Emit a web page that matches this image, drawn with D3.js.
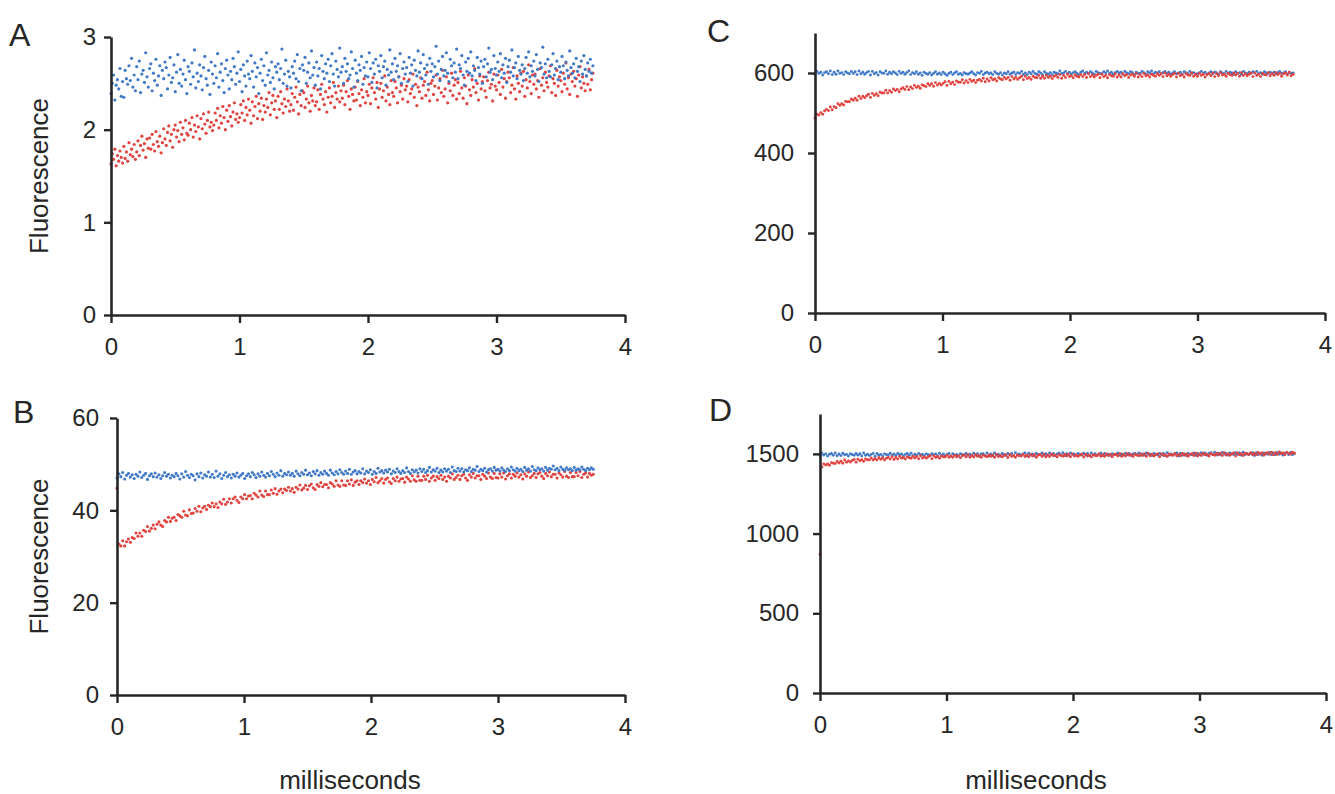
<!DOCTYPE html>
<html><head><meta charset="utf-8">
<script src="https://cdn.jsdelivr.net/npm/d3@7"></script>
<style>html,body{margin:0;padding:0;background:#fff;} svg{display:block;font-family:"Liberation Sans",Arial,Helvetica,sans-serif;}</style>
</head><body>
<svg id="chart" width="1335" height="794"></svg>
<script>
// sampling intervals of the traces (ms)
const dtA = 0.01;
const dt = 0.015;
const xTicks = [0, 1, 2, 3, 4];
const aTicks = [0, 1, 2, 3];
const bTicks = [0, 20, 40, 60];
const cTicks = [0, 200, 400, 600];
const dTicks = [0, 500, 1000, 1500];
const xLabel = "milliseconds";
const yLabel = "Fluorescence";

const aBlue = [
2.39,2.50,2.59,2.32,2.48,2.54,2.44,2.66,2.36,2.52,
2.35,2.64,2.55,2.49,2.69,2.53,2.77,2.46,2.59,2.42,
2.68,2.54,2.74,2.40,2.60,2.64,2.51,2.83,2.57,2.46,
2.66,2.71,2.42,2.61,2.53,2.76,2.48,2.58,2.69,2.37,
2.64,2.55,2.73,2.67,2.44,2.59,2.78,2.51,2.56,2.70,
2.41,2.62,2.81,2.50,2.65,2.47,2.60,2.75,2.54,2.39,
2.68,2.63,2.49,2.72,2.57,2.86,2.45,2.61,2.52,2.70,
2.58,2.43,2.67,2.79,2.55,2.48,2.64,2.38,2.73,2.60,
2.50,2.69,2.56,2.82,2.46,2.62,2.71,2.53,2.40,2.66,
2.75,2.59,2.44,2.63,2.54,2.77,2.68,2.49,2.61,2.84,
2.52,2.65,2.41,2.70,2.58,2.47,2.74,2.60,2.55,2.80,
2.63,2.46,2.72,2.57,2.67,2.39,2.61,2.76,2.53,2.69,
2.48,2.83,2.59,2.64,2.51,2.73,2.56,2.44,2.68,2.62,
2.71,2.54,2.66,2.87,2.50,2.60,2.75,2.47,2.63,2.57,
2.45,2.68,2.61,2.74,2.55,2.81,2.52,2.66,2.42,2.70,
2.64,2.78,2.50,2.62,2.72,2.56,2.85,2.59,2.67,2.48,
2.73,2.58,2.66,2.44,2.80,2.63,2.55,2.71,2.61,2.76,
2.52,2.69,2.82,2.60,2.47,2.74,2.65,2.57,2.88,2.62,
2.68,2.50,2.77,2.63,2.71,2.55,2.59,2.84,2.66,2.46,
2.75,2.61,2.53,2.70,2.64,2.79,2.49,2.67,2.58,2.73,
2.57,2.83,2.66,2.51,2.72,2.60,2.76,2.45,2.69,2.63,
2.80,2.56,2.68,2.74,2.48,2.65,2.59,2.86,2.62,2.71,
2.54,2.77,2.63,2.69,2.57,2.82,2.50,2.66,2.73,2.60,
2.67,2.52,2.78,2.61,2.70,2.47,2.75,2.64,2.58,2.85,
2.62,2.72,2.55,2.81,2.66,2.59,2.70,2.49,2.77,2.63,
2.71,2.57,2.68,2.90,2.60,2.74,2.53,2.65,2.79,2.58,
2.64,2.83,2.61,2.52,2.76,2.69,2.56,2.72,2.62,2.87,
2.55,2.70,2.66,2.80,2.59,2.48,2.73,2.63,2.77,2.61,
2.84,2.58,2.69,2.64,2.53,2.78,2.67,2.60,2.74,2.50,
2.68,2.76,2.57,2.71,2.88,2.62,2.65,2.54,2.80,2.66,
2.59,2.73,2.63,2.82,2.56,2.70,2.61,2.77,2.51,2.68,
2.75,2.62,2.86,2.58,2.67,2.72,2.55,2.79,2.64,2.60,
2.70,2.53,2.66,2.78,2.61,2.84,2.57,2.69,2.63,2.74,
2.58,2.81,2.65,2.52,2.72,2.67,2.89,2.60,2.71,2.56,
2.76,2.63,2.57,2.70,2.82,2.59,2.66,2.74,2.54,2.68,
2.62,2.79,2.69,2.55,2.73,2.64,2.58,2.85,2.67,2.61,
2.71,2.56,2.77,2.63,2.68,2.52,2.74,2.60,2.80,2.65,
2.58,2.72,2.63,2.76,2.61,2.69];

const aRed = [
1.63,1.74,1.68,1.79,1.61,1.72,1.66,1.77,1.70,1.64,
1.82,1.69,1.76,1.66,1.86,1.73,1.79,1.71,1.84,1.68,
1.76,1.88,1.72,1.83,1.93,1.78,1.85,1.70,1.90,1.80,
1.91,1.79,1.95,1.84,1.77,1.98,1.87,1.82,1.93,1.75,
1.86,2.01,1.90,1.83,1.97,2.04,1.88,1.95,1.81,2.00,
2.05,1.92,1.99,1.87,2.08,1.95,2.02,1.89,2.10,1.96,
1.94,2.07,2.00,2.13,1.92,2.05,1.98,2.15,2.03,1.90,
2.12,2.01,2.17,2.06,1.96,2.10,2.19,2.03,2.08,1.99,
2.05,2.18,2.10,2.23,2.02,2.15,2.07,2.25,2.13,2.00,
2.21,2.09,2.26,2.14,2.04,2.19,2.29,2.11,2.17,2.08,
2.13,2.27,2.18,2.31,2.10,2.24,2.16,2.33,2.21,2.07,
2.30,2.15,2.25,2.36,2.12,2.28,2.20,2.34,2.11,2.26,
2.19,2.33,2.24,2.40,2.16,2.29,2.37,2.22,2.31,2.13,
2.36,2.22,2.41,2.28,2.18,2.33,2.25,2.44,2.31,2.20,
2.27,2.39,2.21,2.35,2.46,2.30,2.17,2.38,2.26,2.42,
2.40,2.24,2.33,2.47,2.29,2.20,2.37,2.31,2.45,2.26,
2.30,2.43,2.22,2.38,2.49,2.33,2.27,2.41,2.19,2.35,
2.45,2.29,2.36,2.51,2.24,2.40,2.33,2.47,2.30,2.42,
2.34,2.48,2.27,2.41,2.53,2.36,2.22,2.44,2.38,2.31,
2.46,2.32,2.52,2.39,2.26,2.43,2.35,2.55,2.29,2.41,
2.37,2.49,2.28,2.45,2.56,2.40,2.33,2.51,2.24,2.44,
2.50,2.35,2.42,2.58,2.31,2.46,2.38,2.27,2.53,2.40,
2.36,2.52,2.45,2.29,2.57,2.41,2.48,2.33,2.55,2.43,
2.47,2.30,2.54,2.39,2.44,2.60,2.35,2.49,2.26,2.46,
2.41,2.56,2.34,2.48,2.52,2.37,2.62,2.43,2.31,2.50,
2.53,2.38,2.47,2.59,2.32,2.45,2.55,2.40,2.64,2.36,
2.44,2.57,2.29,2.50,2.42,2.61,2.37,2.48,2.54,2.33,
2.51,2.39,2.63,2.45,2.34,2.56,2.47,2.28,2.59,2.43,
2.37,2.54,2.46,2.66,2.40,2.50,2.32,2.58,2.44,2.52,
2.57,2.42,2.35,2.53,2.62,2.45,2.49,2.31,2.60,2.47,
2.43,2.59,2.51,2.38,2.65,2.46,2.55,2.34,2.52,2.62,
2.56,2.40,2.48,2.67,2.44,2.33,2.58,2.50,2.41,2.61,
2.47,2.63,2.36,2.54,2.45,2.70,2.52,2.39,2.59,2.49,
2.60,2.44,2.53,2.35,2.66,2.48,2.56,2.42,2.62,2.51,
2.46,2.58,2.69,2.40,2.55,2.50,2.37,2.64,2.47,2.57,
2.53,2.41,2.61,2.49,2.72,2.44,2.56,2.38,2.60,2.52,
2.63,2.47,2.55,2.36,2.59,2.68,2.45,2.57,2.50,2.42,
2.58,2.49,2.65,2.43,2.54,2.61];

const bBlue = [
47.0,47.9,47.3,48.2,46.8,47.6,48.0,47.2,47.7,46.9,
47.8,47.4,48.3,47.1,47.6,48.0,46.7,47.5,47.9,47.3,
48.1,47.2,47.7,46.9,47.5,48.2,47.4,47.8,47.0,47.6,
47.3,48.0,47.5,46.8,47.9,47.2,48.4,47.6,47.1,47.8,
47.5,46.6,47.9,47.3,48.1,47.0,47.7,47.4,48.3,47.2,
47.8,47.1,48.5,47.4,47.9,46.9,47.6,48.2,47.3,47.7,
47.0,47.8,47.4,48.1,47.2,47.6,48.0,46.9,47.5,47.9,
47.3,48.2,47.7,47.1,47.9,47.4,48.3,47.6,47.2,48.0,
47.5,48.4,47.8,47.3,48.1,47.6,48.6,47.4,48.0,47.7,
48.3,47.6,48.0,47.4,48.5,47.9,47.5,48.2,47.8,48.7,
47.7,48.1,47.5,48.4,47.9,48.6,47.6,48.2,47.8,48.5,
48.0,47.6,48.7,48.1,47.7,48.4,47.9,48.8,48.2,47.8,
48.5,48.0,48.9,47.8,48.3,48.6,47.9,48.4,48.1,49.0,
47.9,48.5,48.2,48.8,47.8,48.4,48.0,49.1,48.3,48.6,
48.1,48.7,48.3,48.9,47.9,48.5,48.2,49.0,48.4,48.0,
48.6,48.2,49.2,48.4,48.0,48.8,48.3,48.7,48.1,49.0,
48.4,48.9,48.2,48.6,49.3,48.3,48.8,48.5,49.1,48.2,
48.7,48.3,49.0,48.5,48.9,48.2,49.4,48.6,48.4,49.1,
48.5,49.0,48.3,48.8,48.6,49.2,48.4,48.9,48.7,49.5,
48.4,48.9,48.6,49.1,48.3,48.8,49.0,48.5,49.3,48.7,
48.9,48.5,49.2,48.7,48.4,49.0,48.6,49.4,48.8,48.5,
49.1,48.6,48.9,48.4,49.3,48.7,49.0,48.5,49.5,48.8,
48.6,49.2,48.8,49.0,48.5,49.3,48.7,49.1,48.9,49.6,
48.8,49.1,48.6,49.4,48.9,48.7,49.2,48.8,49.0,48.6,
49.3,48.7,49.0,48.8,49.4,48.9,48.6,49.1,48.8,49.2,
48.9];

const bRed = [
44.8,32.7,32.3,33.4,32.3,33.2,33.8,33.1,34.1,33.9,
35.1,34.4,35.1,34.4,35.7,35.4,36.5,35.5,36.1,36.8,
36.0,37.0,37.5,36.8,36.5,37.8,37.5,38.5,37.6,38.3,
38.5,37.8,39.1,38.8,38.5,39.8,39.0,38.8,40.1,39.3,
39.4,40.4,39.8,40.9,39.7,40.5,40.9,40.2,41.1,40.8,
41.6,40.8,41.4,40.6,41.8,41.4,42.4,41.3,41.8,42.5,
41.6,42.5,42.9,42.2,41.7,42.9,42.5,43.4,42.5,43.1,
43.2,42.5,43.7,43.3,42.9,44.2,43.3,43.0,44.2,43.4,
43.4,44.4,43.7,44.7,43.5,44.2,44.6,43.8,44.6,44.3,
45.0,44.2,44.7,43.9,45.0,44.6,45.5,44.4,44.8,45.4,
44.5,45.3,45.7,44.9,44.5,45.6,45.2,46.0,45.1,45.6,
45.6,44.9,46.0,45.7,45.2,46.4,45.5,45.2,46.4,45.5,
45.4,46.4,45.7,46.6,45.4,46.1,46.4,45.6,46.4,46.0,
46.8,45.9,46.4,45.6,46.7,46.2,47.1,46.0,46.4,46.9,
45.9,46.7,47.0,46.2,45.8,46.9,46.4,47.2,46.3,46.8,
46.9,46.1,47.2,46.8,46.3,47.5,46.6,46.3,47.4,46.5,
46.5,47.4,46.7,47.6,46.3,47.0,47.4,46.5,47.3,46.9,
47.6,46.7,47.2,46.3,47.4,47.0,47.9,46.7,47.1,47.6,
46.7,47.5,47.8,47.0,46.5,47.7,47.2,48.0,47.0,47.5,
47.5,46.7,47.8,47.4,46.9,48.1,47.2,46.9,48.0,47.1,
47.0,47.9,47.2,48.1,46.8,47.5,47.9,47.0,47.8,47.4,
48.1,47.2,47.7,46.8,47.9,47.4,48.3,47.1,47.5,48.0,
47.1,47.9,48.2,47.4,46.9,48.0,47.5,48.3,47.3,47.8,
47.8,47.0,48.1,47.7,47.2,48.4,47.4,47.1,48.2,47.3,
47.3,48.2,47.5,48.4,47.1,47.8,48.1,47.2,48.0,47.6,
47.8];

const cBlue = [
597,604,599,602,595,601,603,598,605,596,
602,597,605,599,601,596,603,600,598,604,
599,603,596,605,598,602,597,601,604,595,
604,598,601,595,603,600,599,605,597,602,
598,603,600,596,604,599,602,597,601,605,
596,601,598,603,597,600,594,602,599,597,
601,595,599,603,597,600,596,602,598,594,
599,602,596,600,603,597,599,595,601,598,
597,600,603,598,595,601,599,604,596,600,
602,598,600,596,603,599,597,601,595,600,
598,603,597,600,602,596,601,599,604,597,
600,596,602,598,604,599,597,603,600,596,
603,599,597,601,596,602,600,598,605,599,
600,604,598,602,597,601,603,599,596,602,
605,599,602,598,603,600,597,604,601,599,
598,603,600,605,599,602,597,601,604,600,
602,597,604,600,598,603,601,596,602,599,
599,604,601,597,603,600,605,598,602,600,
603,598,601,604,599,602,597,600,603,598,
600,602,597,603,601,598,604,599,601,597,
598,601,604,599,602,597,600,603,598,602,
601,597,603,600,598,604,599,602,600,596,
603,599,601,597,604,600,598,602,599,603,
600,604,598,601,597,603,600,599,602,598,
602,598,601,604,599,600,603,597,601,599,
600];

const cRed = [
487,497,495,501,497,505,509,506,515,508,
516,513,523,519,523,520,529,528,528,535,
532,537,532,542,536,542,538,543,547,539,
549,544,548,543,552,550,550,557,550,556,
552,560,556,559,553,560,563,559,566,558,
565,561,569,564,567,562,570,568,566,573,
569,573,567,576,570,574,570,574,578,569,
579,573,577,571,580,577,577,583,575,581,
576,584,579,582,576,582,584,580,587,578,
585,580,588,583,585,580,588,585,583,589,
585,589,582,591,585,589,584,588,592,583,
592,586,589,584,592,589,588,594,587,592,
587,594,589,592,586,592,594,589,596,587,
594,589,597,591,593,588,595,592,590,596,
591,596,589,598,591,595,590,594,597,588,
597,591,594,588,596,593,592,598,590,595,
590,598,593,596,589,595,597,592,599,590,
596,591,599,593,595,590,597,594,592,598,
594,598,591,600,593,597,592,596,599,590,
599,593,596,590,598,595,594,600,592,597,
592,599,594,597,590,596,598,593,600,591,
598,593,601,595,597,592,599,596,594,600,
595,599,592,601,594,598,593,597,600,591,
600,594,597,591,599,596,595,601,593,598,
594,601,596,599,592,598,600,595,602,593,
597];

const dBlue = [
1489,1503,1493,1500,1486,1498,1502,1491,1505,1488,
1499,1489,1504,1494,1497,1487,1501,1495,1491,1502,
1492,1501,1487,1505,1491,1498,1489,1497,1503,1485,
1502,1491,1497,1486,1500,1495,1493,1504,1490,1499,
1490,1502,1494,1499,1487,1497,1503,1492,1504,1489,
1498,1490,1503,1495,1496,1488,1500,1494,1492,1501,
1493,1500,1488,1504,1490,1499,1488,1496,1502,1486,
1501,1492,1496,1487,1501,1494,1494,1503,1491,1498,
1488,1504,1492,1501,1485,1499,1501,1490,1506,1487,
1500,1488,1505,1493,1498,1486,1502,1496,1490,1503,
1494,1503,1489,1507,1493,1500,1491,1499,1505,1487,
1504,1493,1499,1488,1502,1497,1495,1506,1492,1501,
1491,1505,1495,1502,1488,1500,1504,1493,1507,1490,
1501,1491,1506,1496,1499,1489,1503,1497,1493,1504,
1493,1502,1490,1506,1492,1501,1490,1498,1504,1488,
1503,1494,1498,1489,1501,1496,1496,1505,1493,1500,
1492,1504,1494,1503,1489,1499,1503,1494,1506,1491,
1500,1492,1505,1497,1498,1490,1502,1498,1492,1503,
1495,1503,1488,1508,1493,1499,1492,1500,1505,1487,
1504,1492,1500,1489,1503,1497,1494,1506,1491,1502,
1494,1508,1498,1505,1491,1503,1507,1496,1510,1493,
1504,1494,1509,1499,1502,1492,1506,1500,1496,1507,
1497,1506,1492,1510,1496,1503,1494,1502,1508,1490,
1507,1496,1502,1491,1505,1500,1498,1509,1495,1504,
1495,1507,1497,1506,1492,1502,1508,1495,1509,1494,
1502];

const dRed = [
870,1418,1437,1430,1436,1429,1445,1441,1439,1452,
1443,1454,1441,1461,1448,1456,1449,1458,1465,1448,
1466,1456,1463,1453,1468,1463,1462,1474,1461,1470,
1461,1476,1466,1474,1461,1473,1478,1467,1482,1465,
1477,1467,1483,1473,1477,1467,1482,1476,1472,1484,
1474,1483,1470,1488,1474,1481,1473,1481,1488,1470,
1488,1477,1483,1473,1487,1482,1481,1492,1478,1487,
1478,1492,1482,1489,1475,1488,1492,1481,1495,1478,
1490,1480,1495,1485,1488,1478,1492,1486,1482,1493,
1484,1493,1479,1497,1483,1490,1481,1489,1495,1477,
1495,1484,1490,1479,1493,1488,1486,1497,1483,1492,
1482,1497,1486,1494,1479,1491,1495,1484,1498,1481,
1493,1483,1498,1488,1491,1481,1495,1489,1485,1496,
1487,1496,1482,1500,1486,1493,1484,1492,1498,1480,
1497,1486,1492,1481,1495,1490,1488,1499,1485,1494,
1485,1499,1489,1496,1482,1494,1498,1487,1501,1484,
1496,1486,1501,1491,1494,1484,1498,1492,1488,1499,
1489,1499,1484,1502,1488,1496,1486,1495,1500,1482,
1500,1489,1495,1484,1498,1493,1491,1502,1488,1497,
1488,1502,1492,1499,1485,1497,1501,1490,1504,1487,
1499,1489,1504,1494,1497,1487,1501,1495,1491,1502,
1494,1503,1489,1507,1493,1500,1491,1499,1505,1487,
1506,1495,1501,1490,1504,1499,1497,1508,1494,1503,
1495,1509,1499,1506,1492,1504,1508,1497,1511,1494,
1507,1497,1512,1502,1505,1495,1509,1503,1499,1510,
1504];

// ---- layout / style ----
const BLUE = "#4079c7", RED = "#e1433f", INK = "#262626";
const FONT = '"Liberation Sans", Arial, Helvetica, sans-serif';
const panels = [
  {letter:"A", blue:aBlue, red:aRed, step:dtA, r:1.6,  yMax:3,    ticks:aTicks, x0:111, x4:625,  top:37,  bot:315, pad:8,  lx:9,   ly:46,  ylab:true},
  {letter:"B", blue:bBlue, red:bRed, step:dt,  r:1.55, yMax:60,   ticks:bTicks, x0:117, x4:625,  top:418, bot:695, pad:11, lx:13,  ly:423, ylab:true, xlab:350},
  {letter:"C", blue:cBlue, red:cRed, step:dt,  r:1.45, yMax:700,  ticks:cTicks, x0:815, x4:1325, top:33,  bot:313, pad:14, lx:707, ly:42,  redTop:true},
  {letter:"D", blue:dBlue, red:dRed, step:dt,  r:1.45, yMax:1750, ticks:dTicks, x0:820, x4:1326, top:414, bot:693, pad:14, lx:709, ly:421, xlab:1036, redTop:true}
];

const svg = d3.select("#chart");
svg.append("rect").attr("width",1335).attr("height",794).attr("fill","#fff");

panels.forEach(p => {
  const x = d3.scaleLinear().domain([0,4]).range([p.x0, p.x4]);
  const y = d3.scaleLinear().domain([0,p.yMax]).range([p.bot, p.top]);
  const g = svg.append("g");

  const drawSeries = (vals, color) => {
    g.append("g").selectAll("circle").data(vals).join("circle")
      .attr("cx", (d,i) => x(i*p.step))
      .attr("cy", d => y(d))
      .attr("r", p.r)
      .attr("fill", color);
  };
  if (p.redTop) { drawSeries(p.blue, BLUE); drawSeries(p.red, RED); }
  else { drawSeries(p.red, RED); drawSeries(p.blue, BLUE); }

  const fmt = d3.format("d");
  const yAx = g.append("g").attr("transform",`translate(${p.x0},0)`)
    .call(d3.axisLeft(y).tickValues(p.ticks).tickFormat(fmt).tickSize(7).tickSizeOuter(0).tickPadding(p.pad));
  const xAx = g.append("g").attr("transform",`translate(0,${p.bot})`)
    .call(d3.axisBottom(x).tickValues(xTicks).tickFormat(fmt).tickSize(8).tickSizeOuter(0).tickPadding(15));
  [yAx, xAx].forEach(ax => {
    ax.select(".domain").attr("stroke", INK).attr("stroke-width", 2.6);
    ax.selectAll(".tick line").attr("stroke", INK).attr("stroke-width", 2.4);
    ax.selectAll(".tick text").attr("fill", INK).attr("font-size", 24).attr("font-family", FONT);
  });

  g.append("text").attr("x", p.lx).attr("y", p.ly).text(p.letter)
    .attr("font-size", 32).attr("fill", INK).attr("font-family", FONT);

  if (p.ylab) {
    g.append("text")
      .attr("transform", `translate(48,${(p.top+p.bot)/2}) rotate(-90)`)
      .attr("text-anchor","middle").attr("font-size", 26).attr("fill", INK).attr("font-family", FONT)
      .text(yLabel);
  }
  if (p.xlab) {
    g.append("text").attr("x", p.xlab).attr("y", 789)
      .attr("text-anchor","middle").attr("font-size", 26).attr("fill", INK).attr("font-family", FONT)
      .text(xLabel);
  }
});
</script>
</body></html>
